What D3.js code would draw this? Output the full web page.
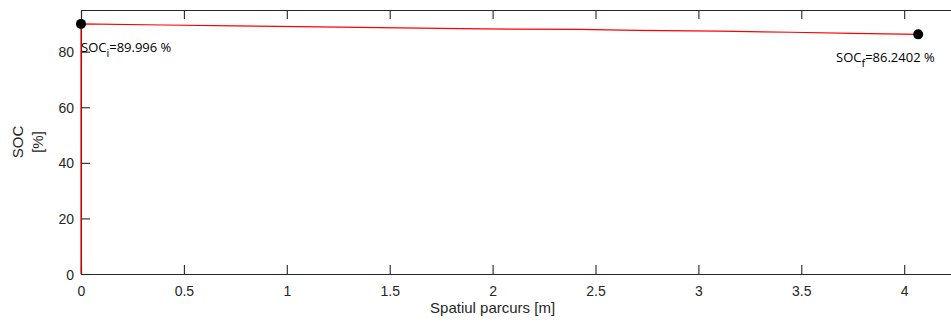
<!DOCTYPE html>
<html>
<head>
<meta charset="utf-8">
<script src="https://cdn.jsdelivr.net/npm/d3@7"></script>
<style>
body { margin: 0; background: #fff; }
svg { display: block; }
</style>
</head>
<body>
<script>
// distance travelled [m] and state of charge [%]
var distance = [0, 0, 0.4, 0.75, 1.06, 1.45, 1.85, 2.1, 2.42, 2.7, 3.1, 3.45, 3.75, 4.068];
var soc = [0, 89.996, 89.6, 89.3, 89.0, 88.65, 88.3, 88.1, 88.0, 87.7, 87.4, 87.0, 86.6, 86.2402];
var markX = [0, 4.068];
var markY = [89.996, 86.2402];
var xTicks = [0, 0.5, 1, 1.5, 2, 2.5, 3, 3.5, 4];
var yTicks = [0, 20, 40, 60, 80];

var w = 951, h = 322;
var padL = 81, padT = 10, plotW = 880, padB = 274;

var svg = d3.select("body")
		.append("svg")
		.attr("width", w)
		.attr("height", h);

var x = d3.scaleLinear().domain([0, 4.276]).range([padL, padL + plotW]);
var y = d3.scaleLinear().domain([0, 95]).range([padB, padT]);

var tickCol = "#262626";

// bottom axis, ticks inward
var xAxis = svg.append("g")
		.attr("transform", "translate(0," + padB + ")")
		.call(d3.axisBottom(x).tickValues(xTicks).tickSizeInner(-9).tickSizeOuter(0).tickPadding(12)
			.tickFormat(function(d) { return d; }));
// top axis
var xTop = svg.append("g")
		.attr("transform", "translate(0," + padT + ")")
		.call(d3.axisTop(x).tickValues(xTicks).tickSizeInner(-9).tickSizeOuter(0).tickFormat(""));
// left axis
var yAxis = svg.append("g")
		.attr("transform", "translate(" + padL + ",0)")
		.call(d3.axisLeft(y).tickValues(yTicks).tickSizeInner(-9).tickSizeOuter(0).tickPadding(7));

[xAxis, xTop, yAxis].forEach(function(g) {
	g.selectAll("path, line").attr("stroke", tickCol).attr("stroke-width", 1.1);
	g.selectAll("text")
		.attr("fill", tickCol)
		.style("font-family", "Liberation Sans, Arial, sans-serif")
		.style("font-size", "14px");
});
yAxis.selectAll("text").attr("dy", "0.36em");

// data line
var line = d3.line()
		.x(function(d, i) { return x(distance[i]); })
		.y(function(d) { return y(d); });

svg.append("path")
	.datum(soc)
	.attr("d", line)
	.attr("fill", "none")
	.attr("stroke", "#ff0000")
	.attr("stroke-width", 1.2);

svg.selectAll("circle.mark")
	.data(markX)
	.enter()
	.append("circle")
	.attr("class", "mark")
	.attr("cx", function(d) { return x(d); })
	.attr("cy", function(d, i) { return y(markY[i]); })
	.attr("r", 5)
	.attr("fill", "#000");

// annotations
var annoFont = "Open Sans, Noto Sans, sans-serif";
function anno(px, py, sub, val) {
	var t = svg.append("text")
			.attr("x", px)
			.attr("y", py)
			.attr("fill", "#000")
			.style("font-family", annoFont)
			.style("font-size", "13px");
	t.append("tspan").text("SOC");
	t.append("tspan").attr("dy", 5).style("font-size", "11px").text(sub);
	t.append("tspan").attr("dy", -5).text("=" + val + " %");
}
anno(x(0), 52, "i", "89.996");
anno(836, 62, "f", "86.2402");

// axis labels
svg.append("text")
	.attr("x", x(2.0))
	.attr("y", 313)
	.attr("text-anchor", "middle")
	.attr("fill", tickCol)
	.style("font-family", "Liberation Sans, Arial, sans-serif")
	.style("font-size", "15px")
	.text("Spatiul parcurs [m]");

var yl = svg.append("text")
		.attr("transform", "translate(23," + 142 + ") rotate(-90)")
		.attr("text-anchor", "middle")
		.attr("fill", tickCol)
		.style("font-family", "Liberation Sans, Arial, sans-serif")
		.style("font-size", "15px");
yl.append("tspan").attr("x", 0).attr("dy", 0).text("SOC");
yl.append("tspan").attr("x", 0).attr("dy", 20).text("[%]");
</script>
</body>
</html>
